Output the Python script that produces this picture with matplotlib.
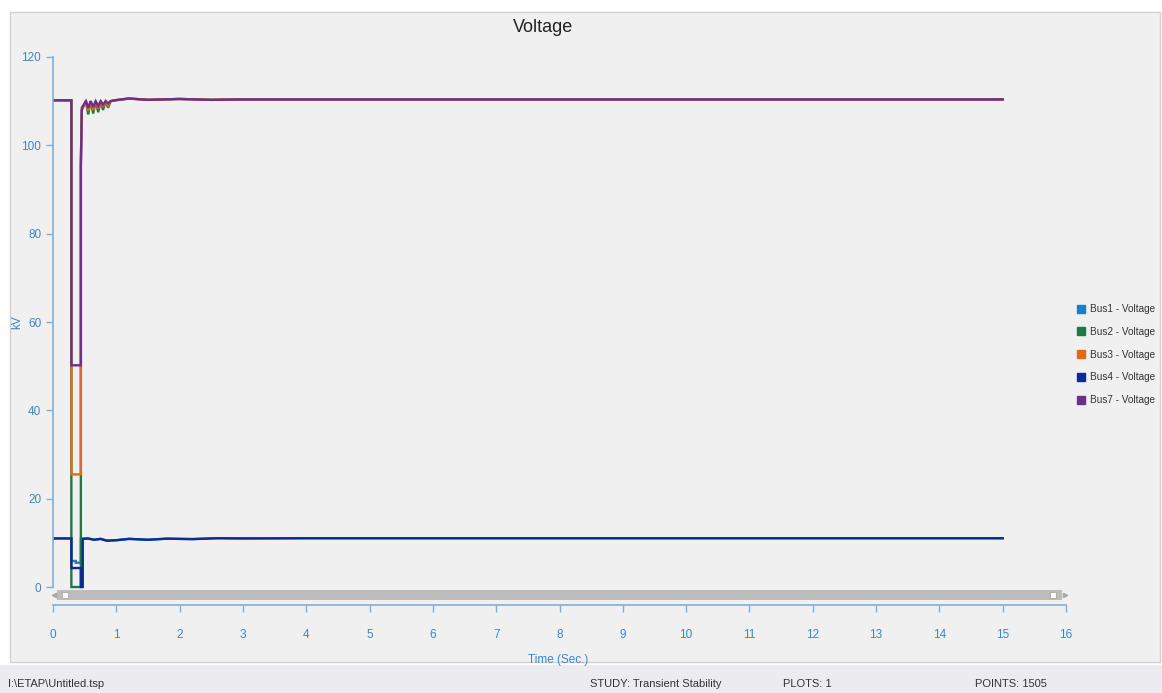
import matplotlib
matplotlib.use("Agg")
import matplotlib.pyplot as plt
from matplotlib.lines import Line2D
from matplotlib.patches import Rectangle

plt.rcParams["font.family"] = ["Liberation Sans", "DejaVu Sans"]

# ---- data (time in s, voltage in kV) ----
t_hv = [0, 0.29, 0.29, 0.44, 0.44, 0.455, 0.52, 0.556, 0.595, 0.635, 0.674, 0.714,
        0.753, 0.79, 0.832, 0.87, 0.91, 0.98, 1.2, 1.5, 2.0, 2.5, 3.0, 5.0, 8.0, 15.0]
bus2_v = [110.2, 110.2, 0, 0, 96, 108, 110, 107.0, 110, 107.2, 110, 107.5,
          110, 108.0, 110, 108.5, 110, 110.2, 110.6, 110.3, 110.5, 110.3, 110.4, 110.4, 110.4, 110.4]
bus3_v = [110.2, 110.2, 25.5, 25.5, 96, 108, 110, 107.8, 110, 108.0, 110, 108.3,
          110, 108.7, 110, 109.0, 110, 110.2, 110.6, 110.3, 110.5, 110.3, 110.4, 110.4, 110.4, 110.4]
bus7_v = [110.2, 110.2, 50.2, 50.2, 95, 108.5, 110, 108.5, 110, 108.7, 110, 108.9,
          110, 109.2, 110, 109.5, 110, 110.2, 110.6, 110.3, 110.5, 110.3, 110.4, 110.4, 110.4, 110.4]

t_bus1 = [0, 0.29, 0.29, 0.36, 0.36, 0.44, 0.44, 0.55, 0.65, 0.75, 0.85, 1.0, 1.2,
          1.5, 1.8, 2.2, 2.6, 3.0, 4.0, 6.0, 10.0, 15.0]
bus1_v = [11.0, 11.0, 5.9, 5.9, 5.5, 5.5, 10.9, 11.0, 10.7, 10.9, 10.5, 10.6, 10.9,
          10.7, 10.95, 10.85, 11.05, 11.0, 11.05, 11.05, 11.05, 11.05]
t_bus4 = [0, 0.29, 0.29, 0.44, 0.44, 0.47, 0.47, 0.55, 0.65, 0.75, 0.85, 1.0, 1.2,
          1.5, 1.8, 2.2, 2.6, 3.0, 4.0, 6.0, 10.0, 15.0]
bus4_v = [11.0, 11.0, 4.3, 4.3, 0, 0, 10.9, 11.0, 10.7, 10.9, 10.5, 10.6, 10.9,
          10.7, 10.95, 10.85, 11.05, 11.0, 11.05, 11.05, 11.05, 11.05]

series = [
    ("Bus1 - Voltage", t_bus1, bus1_v, "#1f7cc7"),
    ("Bus2 - Voltage", t_hv, bus2_v, "#1d7a45"),
    ("Bus3 - Voltage", t_hv, bus3_v, "#e06a1a"),
    ("Bus4 - Voltage", t_bus4, bus4_v, "#0c2c92"),
    ("Bus7 - Voltage", t_hv, bus7_v, "#6e2f8c"),
]
x_ticks = list(range(0, 17))
y_ticks = list(range(0, 121, 20))

tick_blue = "#3d86c9"
axis_blue = "#7fb0dc"

fig = plt.figure(figsize=(11.62, 6.93), dpi=100, facecolor="white")

# window chrome: gray panel + status bar
fig.patches.append(Rectangle((10 / 1162, 1 - 662 / 693), 1150 / 1162, 650 / 693,
                             transform=fig.transFigure, facecolor="#f0f0f0",
                             edgecolor="#d2d2d6", lw=1.0, zorder=-10))
fig.patches.append(Rectangle((0, 0), 1, 28 / 693, transform=fig.transFigure,
                             facecolor="#ebebf0", edgecolor="none", zorder=-10))

ax = fig.add_axes([53 / 1162, 1 - 605 / 693, 1013 / 1162, 548 / 693])
ax.set_facecolor("none")

for name, t, v, c in series:
    ax.plot(t, v, color=c, lw=1.7, solid_joinstyle="miter")

ax.set_xlim(0, 16)
ax.set_ylim(-4.07, 120)
ax.set_xticks(x_ticks)
ax.set_yticks(y_ticks)
for s in ("top", "right"):
    ax.spines[s].set_visible(False)
ax.spines["left"].set_bounds(0, 120)
ax.spines["left"].set_color(axis_blue)
ax.spines["bottom"].set_color(axis_blue)
ax.spines["left"].set_linewidth(1.2)
ax.spines["bottom"].set_linewidth(1.2)
ax.tick_params(axis="both", colors=axis_blue, labelcolor=tick_blue, labelsize=8.5,
               length=5, width=1.0)
ax.tick_params(axis="x", pad=12)

ax.set_xlabel("Time (Sec.)", color=tick_blue, fontsize=8.5)
ax.xaxis.set_label_coords((558 - 53) / 1013, -(654 - 605) / 548)
ax.set_ylabel("kV", color=tick_blue, fontsize=8.5)
ax.yaxis.set_label_coords(-(53 - 23) / 1013, (605 - 322) / 548)

# scrollbar under the data area
ax.add_patch(Rectangle((0.06, -2.9), 15.88, 2.2, facecolor="#bcbcbc",
                       edgecolor="none", clip_on=False))
ax.add_patch(Rectangle((0.15, -2.5), 0.09, 1.4, facecolor="white",
                       edgecolor="#a0a0a0", lw=0.5, clip_on=False))
ax.add_patch(Rectangle((15.75, -2.5), 0.09, 1.4, facecolor="white",
                       edgecolor="#a0a0a0", lw=0.5, clip_on=False))
ax.plot([0.02], [-1.8], marker="<", ms=3, color="#a8a8a8", clip_on=False)
ax.plot([15.98], [-1.8], marker=">", ms=3, color="#a8a8a8", clip_on=False)

fig.text(543 / 1162, 1 - 28 / 693, "Voltage", ha="center", va="center",
         fontsize=13, color="#222222")

handles = [Line2D([], [], ls="none", marker="s", ms=6, color=c) for _, _, _, c in series]
leg = fig.legend(handles, [n for n, _, _, _ in series], loc="upper left",
                 bbox_to_anchor=(1068 / 1162, 1 - 295 / 693), frameon=False,
                 fontsize=7.2, handlelength=0.8, handletextpad=0.5, labelspacing=1.28)
for txt in leg.get_texts():
    txt.set_color("#333333")

# status bar
status_y = 1 - 684 / 693
fig.text(8 / 1162, status_y, "I:\\ETAP\\Untitled.tsp", fontsize=8, color="#333333", va="center")
fig.text(590 / 1162, status_y, "STUDY: Transient Stability", fontsize=8, color="#333333", va="center")
fig.text(783 / 1162, status_y, "PLOTS: 1", fontsize=8, color="#333333", va="center")
fig.text(975 / 1162, status_y, "POINTS: 1505", fontsize=8, color="#333333", va="center")

fig.savefig("out.png", dpi=100, facecolor=fig.get_facecolor())
